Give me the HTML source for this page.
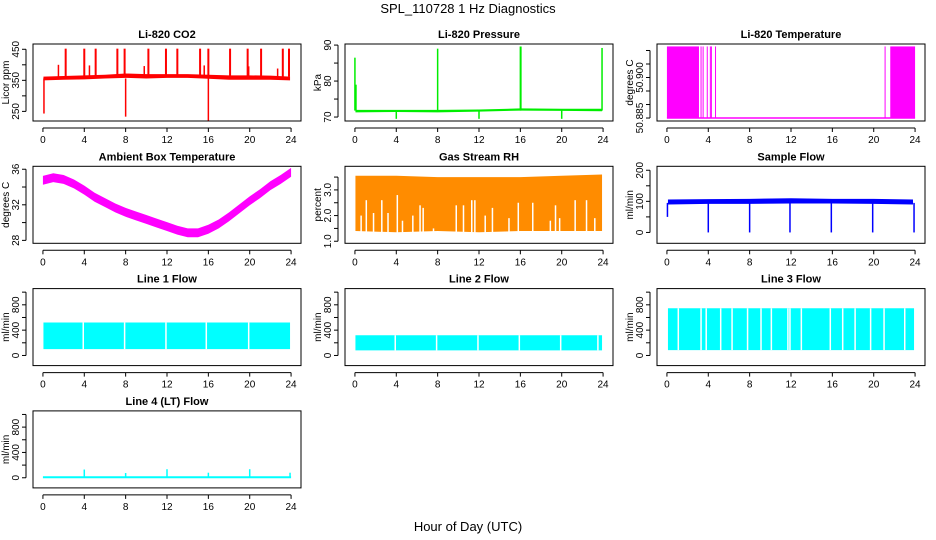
<!DOCTYPE html>
<html><head><meta charset="utf-8">
<style>
html,body{margin:0;padding:0;background:#fff;}
svg{display:block;font-family:"Liberation Sans",sans-serif;}
</style></head>
<body>
<svg id="chart" width="936" height="540" viewBox="0 0 936 540" xmlns="http://www.w3.org/2000/svg">
<text x="468" y="13" font-size="13" text-anchor="middle">SPL_110728  1 Hz Diagnostics</text>
<text x="468" y="531" font-size="13" text-anchor="middle">Hour of Day (UTC)</text>
</svg>
<script>
// ---------- data ----------
const xTicks = [0,4,8,12,16,20,24];
// CO2
const co2BandHours = [0.05,2,4,6,8,10,12,14,16,18,20,22,23.9];
const co2BandLo = [350,352,353,356,358,356,358,358,355,352,352,352,350];
const co2BandHi = [362,364,366,368,372,370,370,370,368,366,366,365,362];
const co2SpikeHours = [2.2,4.0,5.1,7.2,7.9,10.2,11.9,13.0,15.2,16.0,18.1,19.8,21.1,23.2,23.8,1.5,4.5,9.8,15.6,19.9,22.7,0.1,8.0,16.0];
const co2SpikeVals = [452,452,452,452,452,452,452,452,452,452,452,452,452,452,452,400,398,396,398,395,388,243,233,218];
// Pressure
const presBandHours = [0.05,4,8,12,16,20,23.9];
const presBandLo = [71.3,71.4,71.3,71.5,71.8,71.7,71.6];
const presBandHi = [72.0,72.0,72.0,72.1,72.4,72.3,72.3];
const presSpikeHours = [0.0,0.1,8.0,16.0,16.05,23.9,4.0,12.0,20.0];
const presSpikeVals = [86.5,79,89.0,89.6,89.6,89.2,69.5,69.5,69.5];
// Li-820 temperature
const ltBlockStart = [0.0,21.6];
const ltBlockEnd = [3.1,24.0];
const ltLineHours = [3.3,3.5,3.9,4.2,4.3,4.7,21.1];
const ltLow = 50.885;
const ltHigh = 50.9115;
// Ambient box temperature
const ambHours = [0,1,2,3,4,5,6,7,8,9,10,11,12,13,14,15,16,17,18,19,20,21,22,23,24];
const ambVals = [34.8,35.1,34.9,34.4,33.7,32.9,32.3,31.7,31.2,30.8,30.4,30.0,29.6,29.2,28.9,28.9,29.3,29.9,30.7,31.6,32.5,33.3,34.2,34.9,35.7];
// Gas stream RH
const rhHours = [0.05,4,8,12,16,20,23.9];
const rhLo = [1.4,1.35,1.4,1.35,1.4,1.4,1.4];
const rhHi = [3.55,3.55,3.5,3.5,3.5,3.55,3.6];
const rhGapHours = [0.6,1.1,1.8,2.6,3.2,4.1,4.6,5.6,6.3,6.6,7.6,9.8,10.5,11.3,11.6,12.6,13.3,14.9,15.8,17.2,18.9,19.4,19.8,21.3,22.4,23.2];
const rhGapTops = [2.0,2.6,2.1,2.6,2.1,2.8,1.8,2.0,2.4,2.3,1.5,2.4,2.4,2.6,2.6,2.0,2.3,1.9,2.5,2.5,1.8,2.4,1.9,2.6,2.6,1.9];
// Sample flow
const sfBandHours = [0.1,4,8,12,16,20,23.8];
const sfLo = [90,92,92,93,93,92,90];
const sfHi = [106,107,108,110,108,108,106];
const sfDipHours = [0.05,4.0,8.0,11.9,15.9,19.9,23.9];
const sfDipVals = [50,0,0,0,0,0,0];
// Line flows
const l1Lo=100, l1Hi=520, l1Gaps=[3.9,7.9,11.9,15.8,19.9];
const l2Lo=80, l2Hi=320, l2Gaps=[3.9,7.9,11.9,15.9,19.9,23.5];
const l3Lo=85, l3Hi=745, l3Gaps=[1.1,3.3,3.8,5.2,6.3,7.8,9.1,10.1,11.7,11.9,13.0,15.8,17.0,18.2,19.7,21.0,23.0];
const l4Base = 8;
const l4SpikeHours=[4.0,8.0,12.0,16.0,20.0,23.9];
const l4SpikeVals=[130,75,135,80,135,80];

// ---------- helpers ----------
const NS="http://www.w3.org/2000/svg";
const svg=document.getElementById('chart');
function mk(tag,attrs,parent){const e=document.createElementNS(NS,tag);for(const k in attrs)e.setAttribute(k,attrs[k]);(parent||svg).appendChild(e);return e;}

function panel(c,r,title,ylab,top,bot,yTicks,yLabels,nameKey){
  const L=33+312*c, R=301+312*c, T=44+122.3*r, B=121+122.3*r;
  const g=mk('g',{});
  
  
  const x=h=>L+(R-L)*(h+0.96)/25.92;
  const y=v=>T+(B-T)*(top-v)/(top-bot);
  const t=mk('text',{x:(L+R)/2,y:T-6,'font-size':11,'font-weight':'bold','text-anchor':'middle'},g);
  t.textContent=title;
  
  
  const yl=mk('text',{x:L-24,y:(T+B)/2,'font-size':10,'text-anchor':'middle',transform:`rotate(-90 ${L-24} ${(T+B)/2})`},g);
  yl.textContent=ylab;
  
  
  const plot=mk('g',{},g);
  
  
  const ax=mk('g',{stroke:'#000','stroke-width':1,fill:'none'},g);
  
  
  mk('rect',{x:L,y:T,width:R-L,height:B-T},ax);
  mk('line',{x1:x(0),x2:x(24),y1:B+7,y2:B+7},ax);
  xTicks.forEach(h=>{mk('line',{x1:x(h),x2:x(h),y1:B+7,y2:B+11},ax);
    const tl=mk('text',{x:x(h),y:B+22,'font-size':10,'text-anchor':'middle',fill:'#000',stroke:'none'},g);tl.textContent=h;
    
    });
  mk('line',{x1:L-7,x2:L-7,y1:y(yTicks[0]),y2:y(yTicks[yTicks.length-1])},ax);
  yTicks.forEach(v=>mk('line',{x1:L-11,x2:L-7,y1:y(v),y2:y(v)},ax));
  yLabels.forEach(lb=>{const yy=y(lb.v);const tl=mk('text',{x:L-14,y:yy,'font-size':10,'text-anchor':'middle',transform:`rotate(-90 ${L-14} ${yy})`},g);tl.textContent=lb.t;
    
    });
  return {x,y,g:plot,L,R,T,B};
}
function band(p,hs,lo,hi,fill){
  let pts=hs.map((h,i)=>p.x(h)+','+p.y(hi[i]));
  for(let i=hs.length-1;i>=0;i--)pts.push(p.x(hs[i])+','+p.y(lo[i]));
  const e=mk('polygon',{points:pts.join(' '),fill:fill},p.g);
  
  
}
function vline(p,h,v1,v2,col,w){
  const e=mk('line',{x1:p.x(h),x2:p.x(h),y1:p.y(v1),y2:p.y(v2),stroke:col,'stroke-width':w||1.5},p.g);
  
  
}

// CO2
let p=panel(0,0,'Li-820 CO2','Licor ppm',467,219,[250,300,350,400,450],[{v:250,t:'250'},{v:350,t:'350'},{v:450,t:'450'}],'co2');
band(p,co2BandHours,co2BandLo,co2BandHi,'#ff0000');
co2SpikeHours.forEach((h,i)=>vline(p,h,co2SpikeVals[i]>360?362:356,co2SpikeVals[i],'#ff0000',i<15?2:1.5));

// Pressure
p=panel(1,0,'Li-820 Pressure','kPa',90.3,68.9,[70,75,80,85,90],[{v:70,t:'70'},{v:80,t:'80'},{v:90,t:'90'}],'pressure');
band(p,presBandHours,presBandLo,presBandHi,'#00ee00');
presSpikeHours.forEach((h,i)=>vline(p,h,71.8,presSpikeVals[i],'#00ee00',1.5));

// Li-820 temperature
p=panel(2,0,'Li-820 Temperature','degrees C',50.9124,50.8839,[50.885,50.89,50.895,50.9,50.905,50.91],[{v:50.885,t:'50.885'},{v:50.9,t:'50.900'}],'li820-temp');
ltBlockStart.forEach((s,i)=>{const e=mk('rect',{x:p.x(s),y:p.y(ltHigh),width:p.x(ltBlockEnd[i])-p.x(s),height:p.y(ltLow)-p.y(ltHigh),fill:'#ff00ff'},p.g);
  
  });
ltLineHours.forEach(h=>vline(p,h,ltLow,ltHigh,'#ff00ff',1));
{const e=mk('line',{x1:p.x(0),x2:p.x(24),y1:p.y(ltLow),y2:p.y(ltLow),stroke:'#ff00ff','stroke-width':1.5},p.g);
 
 }

// Ambient
p=panel(0,1,'Ambient Box Temperature','degrees C',36.33,27.67,[28,30,32,34,36],[{v:28,t:'28'},{v:32,t:'32'},{v:36,t:'36'}],'ambient-temp');
band(p,ambHours,ambVals.map(v=>v-0.55),ambVals.map(v=>v+0.45),'#ff00ff');

// RH
p=panel(1,1,'Gas Stream RH','percent',3.92,0.92,[1,1.5,2,2.5,3,3.5],[{v:1,t:'1.0'},{v:2,t:'2.0'},{v:3,t:'3.0'}],'gas-rh');
band(p,rhHours,rhLo,rhHi,'#ff8c00');
rhGapHours.forEach((h,i)=>vline(p,h,1.2,rhGapTops[i],'#ffffff',1.5));

// Sample flow
p=panel(2,1,'Sample Flow','ml/min',212.7,-34.9,[0,50,100,150,200],[{v:0,t:'0'},{v:100,t:'100'},{v:200,t:'200'}],'sample-flow');
band(p,sfBandHours,sfLo,sfHi,'#0000ff');
sfDipHours.forEach((h,i)=>vline(p,h,95,sfDipVals[i],'#0000ff',1.5));

// Line flows
const flowTicks=[0,200,400,600,800,1000], flowLabels=[{v:0,t:'0'},{v:400,t:'400'},{v:800,t:'800'}];
function linePanel(c,r,title,key,lo,hi,gaps,start,end){
  const q=panel(c,r,title,'ml/min',1056,-160,flowTicks,flowLabels,key);
  band(q,[start,end],[lo,lo],[hi,hi],'#00ffff');
  gaps.forEach(h=>vline(q,h,lo,hi,'#ffffff',1.5));
  return q;
}
linePanel(0,2,'Line 1 Flow','line1-flow',l1Lo,l1Hi,l1Gaps,0.05,23.9);
linePanel(1,2,'Line 2 Flow','line2-flow',l2Lo,l2Hi,l2Gaps,0.05,23.9);
linePanel(2,2,'Line 3 Flow','line3-flow',l3Lo,l3Hi,l3Gaps,0.1,23.9);
p=panel(0,3,'Line 4 (LT) Flow','ml/min',1056,-160,flowTicks,flowLabels,'line4-flow');
{const e=mk('line',{x1:p.x(0),x2:p.x(24),y1:p.y(l4Base),y2:p.y(l4Base),stroke:'#00ffff','stroke-width':2},p.g);
 
 }
l4SpikeHours.forEach((h,i)=>vline(p,h,l4Base,l4SpikeVals[i],'#00ffff',1.5));
</script>
</body></html>
